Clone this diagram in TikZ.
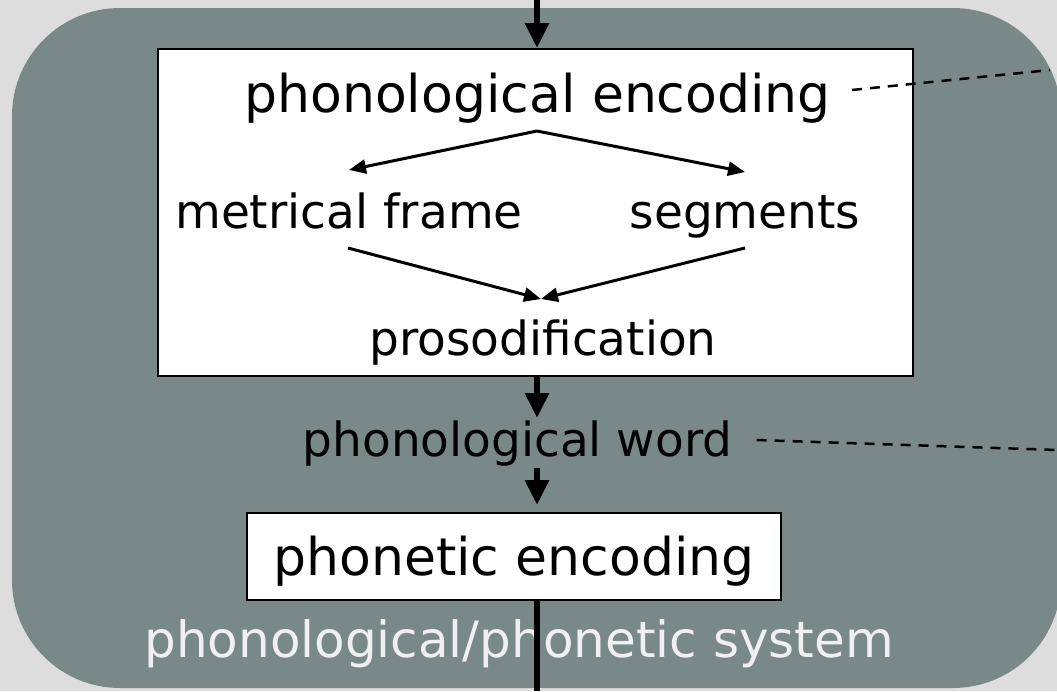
\documentclass[tikz,border=0pt]{standalone}
\usepackage{fontspec}
\setmainfont{DejaVu Sans}
\usetikzlibrary{arrows.meta}

\definecolor{pagegray}{RGB}{221,221,221}
\definecolor{panel}{RGB}{120,137,136}
\definecolor{lighttext}{RGB}{240,240,240}

\tikzset{
  bigtxt/.style={anchor=base, inner sep=0pt, font=\fontsize{52}{60}\selectfont},
  smalltxt/.style={anchor=base, inner sep=0pt, font=\fontsize{47}{56}\selectfont},
  whitebox/.style={draw=black, fill=white, line width=2.2pt, inner sep=0pt},
  thinarrow/.style={line width=3pt, -{Triangle[length=17pt,width=14pt]}},
  flowarrow/.style={line width=6pt, -{Triangle[length=25pt,width=23pt]}},
  flowline/.style={line width=6.5pt},
  linkline/.style={line width=2.5pt, dash pattern=on 10pt off 8pt}
}

\begin{document}
\begin{tikzpicture}[x=1pt,y=-1pt]
\useasboundingbox (0,0) rectangle (1057,691);
\clip (0,0) rectangle (1057,691);

% page and the grey system panel
\fill[pagegray] (0,0) rectangle (1057,691);
\fill[panel, rounded corners=108pt] (12,8) rectangle (1061,688);

% boxes
\node[whitebox, minimum width=755pt, minimum height=327pt, anchor=north west] (encbox) at (157,48) {};
\node[whitebox, minimum width=534pt, minimum height=87pt, anchor=north west] (phonbox) at (246,512) {};

% labels
\node[bigtxt] (penc) at (537.5,112) {phonological encoding};
\node[smalltxt] (mframe) at (349,228) {metrical frame};
\node[smalltxt] (segs) at (745,228) {segments};
\node[smalltxt] (pros) at (543,355) {prosodification};
\node[smalltxt] (pword) at (517.5,456) {phonological word};
\node[bigtxt] (phon) at (514,575) {phonetic encoding};
\node[bigtxt, text=lighttext, font=\fontsize{50}{58}\selectfont] (sys) at (519,657) {phonological/phonetic system};

% connector end points
\coordinate (in) at (537,0);
\coordinate (split) at (537,131);
\coordinate (mf-in) at (349,170);
\coordinate (sg-in) at (745,172);
\coordinate (mf-out) at (348,248);
\coordinate (sg-out) at (745,248);
\coordinate (pr-in) at (541,299);
\coordinate (pw-in) at (537,418);
\coordinate (pw-out) at (537,468);
\coordinate (ph-in) at (537,505);
\coordinate (out) at (537,691);
\coordinate (link1) at (1050,70);
\coordinate (link2) at (1057,450);

% main flow
\draw[flowarrow] (in) -- (in |- encbox.north);
\draw[flowarrow] (in |- encbox.south) -- (pw-in);
\draw[flowarrow] (pw-out) -- (ph-in);
\draw[flowline] (in |- phonbox.south) -- (out);

% inside phonological encoding
\draw[thinarrow] (split) -- (mf-in);
\draw[thinarrow] (split) -- (sg-in);
\draw[thinarrow] (mf-out) -- (pr-in);
\draw[thinarrow] (sg-out) -- (pr-in);

% links to the right
\draw[linkline] ([xshift=21pt,yshift=22pt]penc.base east) -- (link1);
\draw[linkline] ([xshift=24pt,yshift=16pt]pword.base east) -- (link2);
\end{tikzpicture}
\end{document}
